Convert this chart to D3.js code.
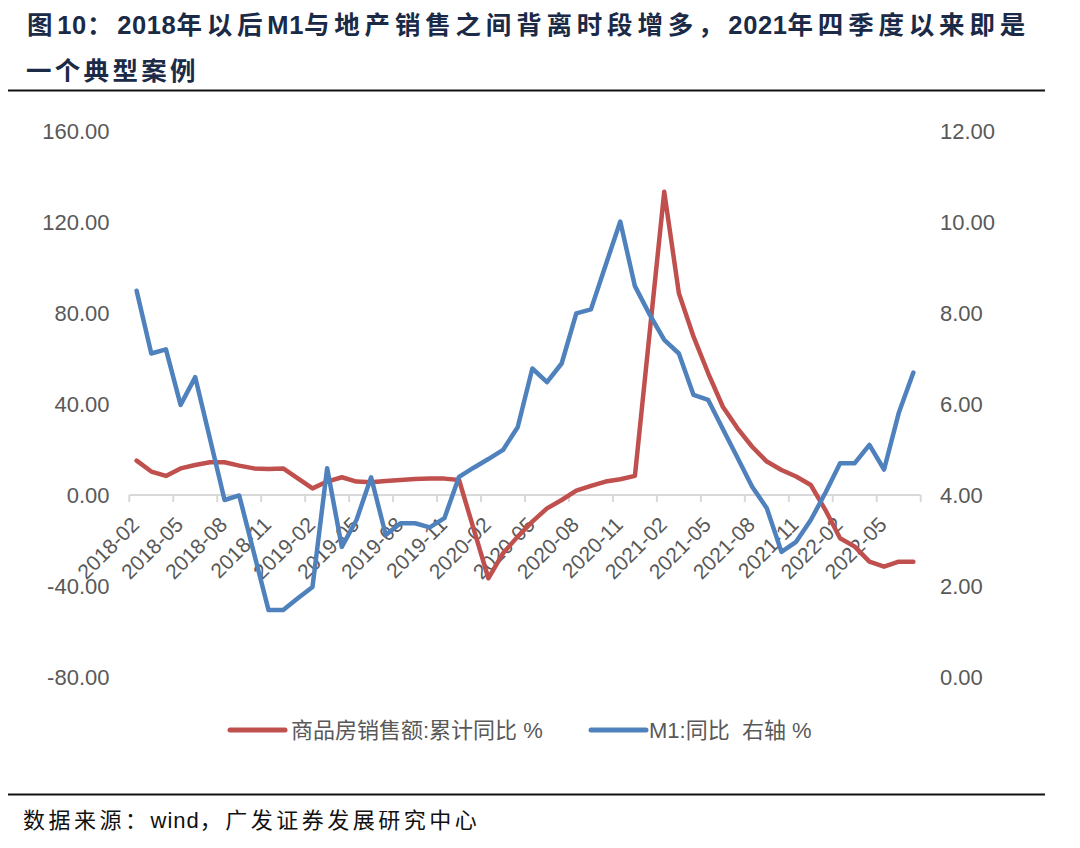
<!DOCTYPE html>
<html>
<head>
<meta charset="utf-8">
<script src="https://cdn.jsdelivr.net/npm/d3@7"></script>
<style>
  html, body { margin: 0; padding: 0; background: #fff; }
  svg { display: block; }
</style>
</head>
<body>
<svg id="chart" width="1080" height="848"></svg>
<script>
// ---- data ----
const months = [
  "2018-02","2018-03","2018-04","2018-05","2018-06","2018-07","2018-08","2018-09","2018-10","2018-11","2018-12",
  "2019-01","2019-02","2019-03","2019-04","2019-05","2019-06","2019-07","2019-08","2019-09","2019-10","2019-11","2019-12",
  "2020-01","2020-02","2020-03","2020-04","2020-05","2020-06","2020-07","2020-08","2020-09","2020-10","2020-11","2020-12",
  "2021-01","2021-02","2021-03","2021-04","2021-05","2021-06","2021-07","2021-08","2021-09","2021-10","2021-11","2021-12",
  "2022-01","2022-02","2022-03","2022-04","2022-05","2022-06","2022-07"
];
// 商品房销售额:累计同比 % (left axis)
const salesYoY = [
  15.1, 10.3, 8.4, 11.7, 13.2, 14.4, 14.4, 12.9, 11.7, 11.4, 11.7,
  7.3, 2.9, 5.9, 7.8, 5.9, 5.6, 6.2, 6.6, 7.0, 7.2, 7.2, 6.6,
  -15.0, -36.6, -25.6, -18.3, -11.7, -5.9, -2.2, 1.9, 4.0, 5.9, 6.9, 8.4,
  71.0, 133.3, 88.7, 69.6, 53.5, 38.8, 29.3, 21.2, 14.7, 11.0, 8.1, 4.4,
  -6.6, -19.0, -22.7, -29.3, -31.5, -29.3, -29.3
];
// M1:同比 % (right axis)
const m1YoY = [
  8.49, 7.11, 7.20, 5.98, 6.59, 5.24, 3.89, 3.99, 2.73, 1.47, 1.47,
  1.73, 1.98, 4.59, 2.86, 3.45, 4.39, 3.12, 3.38, 3.38, 3.29, 3.49, 4.40,
  4.60, 4.79, 4.99, 5.49, 6.78, 6.48, 6.89, 7.99, 8.08, 9.05, 10.01, 8.59,
  7.97, 7.41, 7.11, 6.20, 6.09, 5.45, 4.82, 4.18, 3.71, 2.75, 2.97, 3.45,
  4.05, 4.70, 4.70, 5.10, 4.56, 5.80, 6.69
];
const leftTicks = [160, 120, 80, 40, 0, -40, -80];
const rightTicks = [12, 10, 8, 6, 4, 2, 0];
const seriesNames = ["商品房销售额:累计同比 %", "M1:同比  右轴 %"];
const titleLines = ["图10：2018年以后M1与地产销售之间背离时段增多，2021年四季度以来即是", "一个典型案例"];
const sourceText = "数据来源：wind，广发证券发展研究中心";

// ---- layout ----
const svg = d3.select("#chart");
const fontLatin = "'Liberation Sans', Arial, 'Noto Sans CJK SC', sans-serif";
const fontCJK = "'Liberation Sans', 'Noto Sans CJK SC', sans-serif";
const textGray = "#595959";
const red = "#c0504d", blue = "#4f81bd";
const fmt = d => d.toFixed(2);

const plotLeft = 129.3, plotRight = 920.7, plotTop = 131, plotBottom = 677;

const x = d3.scaleBand().domain(months).range([plotLeft, plotRight]).padding(0);
const xc = d => x(d) + x.bandwidth() / 2;
const yL = d3.scaleLinear().domain([-80, 160]).range([plotBottom, plotTop]);
const yR = d3.scaleLinear().domain([0, 12]).range([plotBottom, plotTop]);

// Mixed text: CJK runs get letter-spacing, Latin runs are tight
function mixedText(sel, str, cjkSpacing, latinSpacing) {
  const runs = str.match(/[A-Za-z0-9]+|[^A-Za-z0-9]+/g);
  runs.forEach(r => {
    const latin = /^[A-Za-z0-9]+$/.test(r);
    sel.append("tspan").attr("letter-spacing", latin ? latinSpacing : cjkSpacing).text(r);
  });
}

// Title
const title = svg.append("g").attr("font-family", fontCJK).attr("font-weight", "bold").attr("fill", "#1b2a47").attr("font-size", 25.5);
const t1 = title.append("text").attr("x", 27).attr("y", 34);
mixedText(t1, titleLines[0], 2.2, 0.6);
// fit CJK spacing so the line ends where the reference ends
(function fit() {
  const target = 1003;
  const w = t1.node().getComputedTextLength();
  const nCJK = titleLines[0].replace(/[A-Za-z0-9]/g, "").length;
  const extra = (target - w) / nCJK;
  t1.selectAll("tspan").filter(function () { return !/^[A-Za-z0-9]+$/.test(this.textContent); })
    .attr("letter-spacing", 2.2 + extra);
})();
const t2 = title.append("text").attr("x", 26).attr("y", 80);
mixedText(t2, titleLines[1], 3.3, 0.6);
svg.append("line").attr("x1", 8).attr("x2", 1045).attr("y1", 90.5).attr("y2", 90.5).attr("stroke", "#111").attr("stroke-width", 2);

// Left axis labels
svg.append("g").selectAll("text").data(leftTicks).join("text")
  .attr("x", 109.5).attr("y", d => yL(d) + 8)
  .attr("text-anchor", "end").attr("font-family", fontLatin).attr("font-size", 22).attr("fill", textGray)
  .text(fmt);
// Right axis labels
svg.append("g").selectAll("text").data(rightTicks).join("text")
  .attr("x", 940).attr("y", d => yR(d) + 8)
  .attr("text-anchor", "start").attr("font-family", fontLatin).attr("font-size", 22).attr("fill", textGray)
  .text(fmt);

// X axis line at 0
const y0 = yL(0);
svg.append("line").attr("x1", plotLeft).attr("x2", plotRight).attr("y1", y0).attr("y2", y0)
  .attr("stroke", "#d9d9d9").attr("stroke-width", 2);
const tickIdx = d3.range(0, months.length + 1, 3);
svg.append("g").selectAll("line").data(tickIdx).join("line")
  .attr("x1", i => i < months.length ? x(months[i]) : plotRight)
  .attr("x2", i => i < months.length ? x(months[i]) : plotRight)
  .attr("y1", y0).attr("y2", y0 + 7)
  .attr("stroke", "#d9d9d9").attr("stroke-width", 2);
const labelMonths = months.filter((m, i) => i % 3 === 0);
svg.append("g").selectAll("text").data(labelMonths).join("text")
  .attr("transform", d => `translate(${xc(d) + 4},${y0 + 31}) rotate(-45)`)
  .attr("text-anchor", "end").attr("font-family", fontLatin).attr("font-size", 21).attr("fill", textGray)
  .text(d => d);

// Lines
const lineL = d3.line().x((d, i) => xc(months[i])).y(d => yL(d));
const lineR = d3.line().x((d, i) => xc(months[i])).y(d => yR(d));
svg.append("path").datum(salesYoY).attr("d", lineL).attr("fill", "none")
  .attr("stroke", red).attr("stroke-width", 4.5).attr("stroke-linejoin", "round").attr("stroke-linecap", "round");
svg.append("path").datum(m1YoY).attr("d", lineR).attr("fill", "none")
  .attr("stroke", blue).attr("stroke-width", 4.5).attr("stroke-linejoin", "round").attr("stroke-linecap", "round");

// Legend
const legend = svg.append("g").attr("font-family", fontCJK).attr("font-size", 22).attr("fill", textGray);
const legItems = [
  { name: seriesNames[0], color: red, x1: 230, x2: 285, tx: 291 },
  { name: seriesNames[1], color: blue, x1: 591, x2: 646, tx: 649 }
];
legItems.forEach(it => {
  legend.append("line").attr("x1", it.x1).attr("x2", it.x2).attr("y1", 730).attr("y2", 730)
    .attr("stroke", it.color).attr("stroke-width", 5).attr("stroke-linecap", "round");
  legend.append("text").attr("x", it.tx).attr("y", 738).style("white-space", "pre").text(it.name);
});

// Bottom rule and source
svg.append("line").attr("x1", 8).attr("x2", 1045).attr("y1", 794.5).attr("y2", 794.5).attr("stroke", "#111").attr("stroke-width", 2);
const src = svg.append("text").attr("x", 23).attr("y", 828).attr("font-family", fontCJK).attr("font-size", 22).attr("fill", "#111");
mixedText(src, sourceText, 3.5, 1.0);
</script>
</body>
</html>
